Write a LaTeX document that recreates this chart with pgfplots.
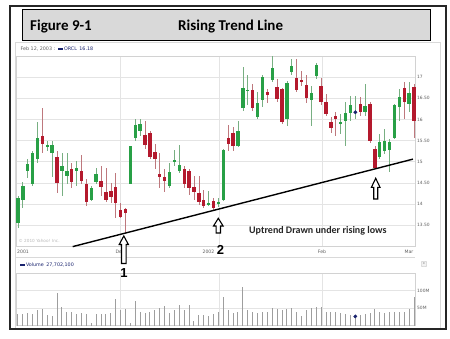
\documentclass[border=0pt]{standalone}
\usepackage{pgfplots}
\pgfplotsset{compat=1.18}
\usepackage{pgfplotstable}
\usepackage{fontspec}
\setmainfont{DejaVu Sans}
\newfontfamily\carl{Carlito}
\newfontfamily\lsans{Liberation Sans}
\definecolor{upc}{RGB}{40,160,70}
\definecolor{dnc}{RGB}{180,25,45}
\definecolor{upw}{RGB}{120,175,130}
\definecolor{dnw}{RGB}{190,120,125}
\definecolor{navy}{RGB}{25,35,110}
\definecolor{gridc}{RGB}{228,228,228}
\definecolor{labc}{RGB}{95,95,95}
\definecolor{titlebg}{RGB}{217,217,217}

\pgfplotstableread{
i o h l c
0 13.55 14.18 13.43 14.14
1 14.09 14.52 13.90 14.42
2 14.78 15.06 14.62 14.94
3 14.46 15.25 14.42 15.20
4 15.06 15.93 14.98 15.55
6 15.35 15.50 15.25 15.39
7 15.21 15.49 14.64 15.39
9 14.78 15.21 14.18 14.90
10 14.66 15.21 14.46 14.78
12 14.78 15.02 14.42 14.86
15 14.10 14.42 14.06 14.38
16 14.52 14.86 14.46 14.70
23 14.48 15.38 14.46 15.36
24 15.57 16.02 15.49 15.87
25 15.73 16.00 15.60 15.90
31 14.42 14.98 14.38 14.76
32 15.00 15.27 14.90 15.04
33 14.78 15.39 14.74 14.91
39 13.98 14.30 13.95 14.02
41 14.02 14.14 13.92 14.03
42 14.10 15.30 14.08 15.27
45 15.37 15.97 15.35 15.73
46 16.26 17.24 16.21 16.74
47 16.67 17.04 16.33 16.70
49 16.06 16.64 16.02 16.40
50 16.46 17.04 16.29 17.00
52 16.94 17.50 16.88 17.22
55 16.00 16.92 15.85 16.85
56 17.12 17.44 17.05 17.27
60 16.46 16.80 15.85 16.63
61 17.02 17.33 16.95 17.29
66 15.89 16.13 15.65 15.93
67 15.97 16.40 15.36 16.15
68 16.15 16.56 15.97 16.34
69 16.16 16.56 16.00 16.18
71 16.18 16.84 16.09 16.31
74 15.10 15.65 15.06 15.47
75 15.25 15.77 15.17 15.49
76 15.28 15.53 14.75 15.47
77 15.57 16.37 15.53 16.33
78 16.29 16.72 15.97 16.52
80 16.37 16.88 16.17 16.63
}\uptab

\pgfplotstableread{
i o h l c
5 15.61 16.26 15.21 15.41
8 15.12 15.25 14.26 14.50
11 14.82 14.98 14.38 14.52
13 14.78 15.15 14.46 14.54
14 14.48 14.58 13.94 14.05
17 14.54 14.90 14.18 14.40
18 14.28 14.86 14.04 14.09
19 14.30 14.50 14.02 14.17
20 14.40 14.74 13.67 14.02
21 13.86 14.02 13.66 13.70
22 13.88 13.90 13.32 13.79
26 15.63 15.97 15.31 15.39
27 15.67 15.73 15.06 15.10
28 15.24 15.41 14.82 15.07
29 14.72 15.21 14.38 14.64
30 14.64 14.82 14.28 14.54
34 14.82 14.90 14.38 14.46
35 14.78 14.82 14.22 14.38
36 14.40 14.66 14.10 14.28
37 14.25 14.66 13.98 14.05
38 14.09 14.34 13.90 13.94
40 14.06 14.14 13.85 13.90
43 15.55 15.87 15.25 15.41
44 15.67 15.81 15.25 15.37
48 16.70 16.84 16.21 16.28
51 16.66 16.72 16.40 16.58
53 16.77 16.96 16.40 16.48
54 16.72 16.75 15.89 15.95
57 16.98 17.43 16.65 16.70
58 16.93 17.15 16.78 16.91
59 16.82 17.05 16.40 16.50
62 16.78 16.98 16.35 16.40
63 16.42 16.60 16.07 16.12
64 15.95 16.05 15.69 15.79
65 16.07 16.17 15.61 16.02
70 16.37 16.52 16.09 16.17
72 16.37 16.40 15.45 15.49
73 15.31 15.37 14.82 14.84
79 16.74 16.88 16.01 16.40
81 16.76 16.84 15.57 15.97
}\dntab

\pgfplotstableread{
i v
0 32
1 32
2 36
3 34
4 43
5 46
6 29
7 26
8 93
9 53
10 40
11 38
12 32
13 36
14 34
15 8
16 32
17 34
18 34
19 36
20 77
21 43
22 48
23 7
24 69
25 40
26 36
27 40
28 45
29 50
30 55
31 36
32 43
33 60
34 45
35 60
36 12
37 31
38 29
39 27
40 32
41 40
42 82
43 43
44 36
45 40
46 110
47 43
48 40
49 36
50 40
51 38
52 50
53 48
54 43
55 48
56 50
57 40
58 27
59 43
60 50
61 53
62 53
63 40
64 40
65 38
66 36
67 34
68 29
69 26
70 31
71 34
72 36
73 46
74 40
75 36
76 38
77 40
78 40
79 40
80 48
81 82
}\voltab

\newcommand\hollowarrow[6]{%
  \draw[black, line width=1.1pt, fill=white, line join=miter]
   (#1,#2) -- (#1+#5,#3) -- (#1+#6,#3) -- (#1+#6,#4) -- (#1-#6,#4)
   -- (#1-#6,#3) -- (#1-#5,#3) -- cycle;}

\pgfplotsset{candle/.style={only marks, mark=*, mark size=0pt,
  mark options={draw=none, fill=none}, forget plot}}

\begin{document}
\begin{tikzpicture}[x=1pt,y=1pt]
\useasboundingbox (0,0) rectangle (450,338);
\fill[white] (0,0) rectangle (450,338);
% chart container
\draw[gray!30, line width=0.5pt] (15,296) rectangle (440,10);

% ---------- price panel ----------
\begin{axis}[at={(16pt,91.8pt)}, anchor=south west, scale only axis,
  width=399pt, height=190.2pt,
  xmin=-0.4, xmax=81.2, ymin=13, ymax=17.5, clip=false,
  axis line style={gray!35, line width=0.5pt},
  xtick={20.9,41.1,62.2}, xticklabels={},
  ytick={13.5,14,14.5,15,15.5,16,16.5,17},
  yticklabels={13.50,14,14.50,15,15.50,16,16.50,17},
  yticklabel pos=right,
  yticklabel style={anchor=west, inner sep=0pt, xshift=2pt,
    font=\fontsize{4.4}{5}\selectfont, text=labc},
  major tick length=0pt,
  grid=major, grid style={gridc, line width=0.5pt}]
% wicks
\addplot[candle, error bars/.cd, y dir=both, y explicit,
  error mark=none, error bar style={line width=0.7pt, color=upw}]
  table[x=i, y expr={(\thisrow{h}+\thisrow{l})/2}, y error expr={(\thisrow{h}-\thisrow{l})/2}] {\uptab};
\addplot[candle, error bars/.cd, y dir=both, y explicit,
  error mark=none, error bar style={line width=0.7pt, color=dnw}]
  table[x=i, y expr={(\thisrow{h}+\thisrow{l})/2}, y error expr={(\thisrow{h}-\thisrow{l})/2}] {\dntab};
% bodies
\addplot[candle, error bars/.cd, y dir=both, y explicit,
  error mark=none, error bar style={line width=3.4pt, color=upc}]
  table[x=i, y expr={(\thisrow{o}+\thisrow{c})/2}, y error expr={max(abs(\thisrow{c}-\thisrow{o})/2,0.012)}] {\uptab};
\addplot[candle, error bars/.cd, y dir=both, y explicit,
  error mark=none, error bar style={line width=3.4pt, color=dnc}]
  table[x=i, y expr={(\thisrow{o}+\thisrow{c})/2}, y error expr={max(abs(\thisrow{c}-\thisrow{o})/2,0.012)}] {\dntab};
% hovered point
\addplot[only marks, mark=*, mark size=1.7pt, navy] coordinates {(69,16.17)};
% trend line
\addplot[black, line width=1.4pt] coordinates {(11.19,12.99) (80.78,15.06)};
\end{axis}

% ---------- volume panel ----------
\begin{axis}[at={(16pt,12.5pt)}, anchor=south west, scale only axis,
  width=399pt, height=52.5pt,
  xmin=-0.4, xmax=81.2, ymin=0, ymax=150,
  axis line style={gray!35, line width=0.5pt},
  xtick={20.9,41.1,62.2}, xticklabels={},
  ytick={50,100}, yticklabels={50M,100M},
  yticklabel pos=right,
  yticklabel style={anchor=west, inner sep=0pt, xshift=2pt,
    font=\fontsize{4.4}{5}\selectfont, text=labc},
  major tick length=0pt,
  grid=major, grid style={gridc, line width=0.5pt}]
\addplot[ycomb, line width=1pt, color=black!38] table[x=i, y=v] {\voltab};
\addplot[only marks, mark=*, mark size=1.7pt, navy] coordinates {(69,26)};
\end{axis}

% separator lines
\draw[gray!30, line width=0.5pt] (16,81) -- (415,81);

% header texts
\node[anchor=west, inner sep=0pt, font=\fontsize{4.8}{5.5}\selectfont] at (20.5,289)
  {\textcolor{labc}{Feb 12, 2003 :}\hspace{3pt}\textcolor{navy}{\rule[0.6pt]{5pt}{1.8pt}\,ORCL\hspace{2.5pt}16.18}};
\node[anchor=west, inner sep=0pt, font=\fontsize{4.8}{5.5}\selectfont] at (20,73)
  {\textcolor{navy}{\rule[0.6pt]{5pt}{1.8pt}\,Volume\hspace{2.5pt}27,702,100}};
\node[anchor=west, inner sep=0pt, font=\fontsize{4.2}{5}\selectfont, text=gray!55] at (18.5,97.5)
  {\textcopyright\ 2010 Yahoo! Inc.};
% small button
\draw[gray!60, fill=gray!10, line width=0.4pt, rounded corners=0.5pt] (421.5,71.5) rectangle (426.5,76.5);
\node[inner sep=0pt, font=\fontsize{3.5}{4}\selectfont, text=gray] at (424,74) {x};

% x labels
\begin{scope}[every node/.style={inner sep=0pt, font=\fontsize{4.6}{5}\selectfont, text=labc}]
\node[anchor=west] at (17,86.5) {2001};
\node at (120,86.5) {Dec};
\node[anchor=east] at (214.5,86.5) {2002};
\node at (322,86.5) {Feb};
\node[anchor=east] at (413.5,86.5) {Mar};
\end{scope}

% annotations
\hollowarrow{123.8}{102}{93.5}{74.5}{4.6}{2.3}
\hollowarrow{218.3}{119.7}{112}{105}{4.8}{2.2}
\hollowarrow{375.7}{159.7}{150.7}{139}{4.3}{2}
\node[inner sep=0pt, font=\lsans\bfseries\fontsize{13}{13}\selectfont] at (124,65) {1};
\node[inner sep=0pt, font=\lsans\bfseries\fontsize{13}{13}\selectfont] at (220.5,88.5) {2};
\node[anchor=base west, inner sep=0pt, font=\carl\bfseries\fontsize{10}{12}\selectfont, text=black!85] at (249,104.7)
  {Uptrend Drawn under rising lows};

% outer frame and title box
\draw[black!85, line width=1.2pt] (10,332) rectangle (446,9);
\draw[black, line width=1pt, fill=titlebg] (22,328) rectangle (430,297);
\node[anchor=base west, inner sep=0pt, font=\carl\bfseries\fontsize{15}{17}\selectfont] at (30,307.5) {Figure 9-1};
\node[anchor=base west, inner sep=0pt, font=\carl\bfseries\fontsize{15}{17}\selectfont] at (178,307.5) {Rising Trend Line};
\end{tikzpicture}
\end{document}
